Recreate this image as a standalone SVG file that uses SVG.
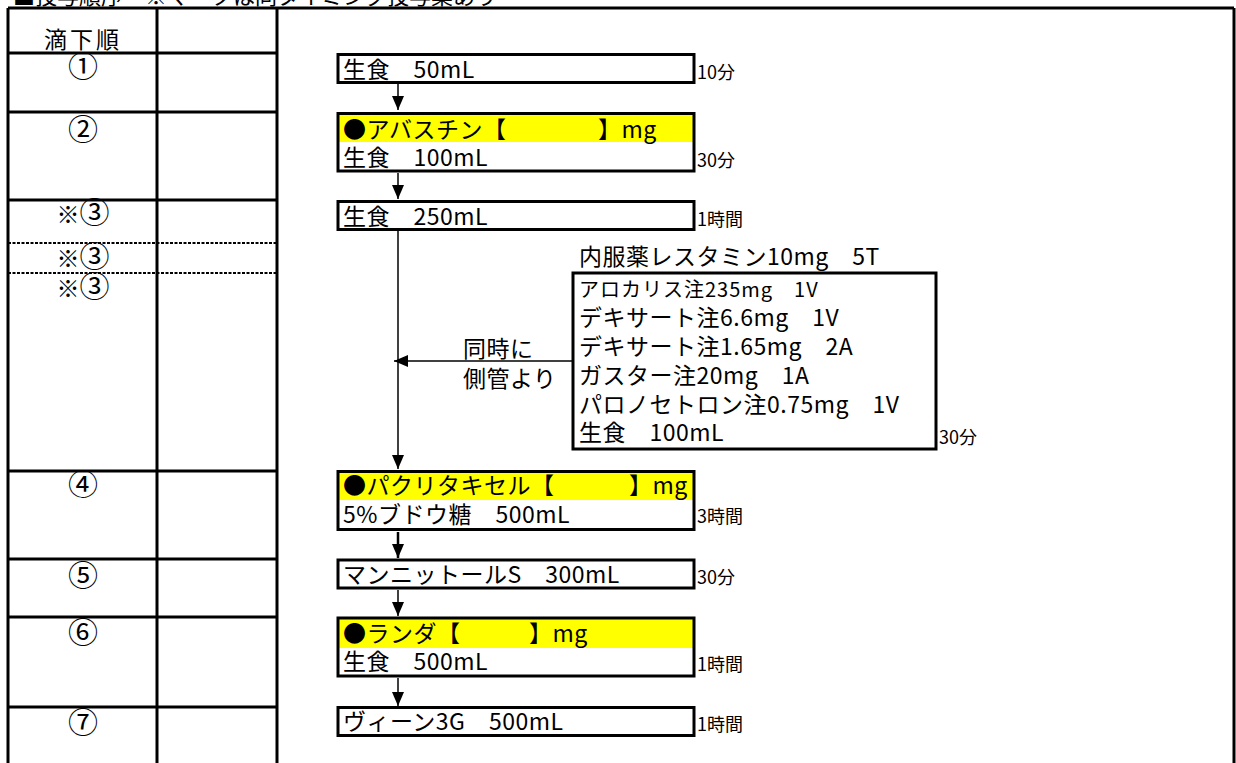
<svg xmlns="http://www.w3.org/2000/svg" width="1236" height="763" viewBox="0 0 1236 763">
<style>
text{font-family:"Noto Sans CJK JP","Noto Sans CJK SC",sans-serif;fill:#000}
.t{font-size:23px;letter-spacing:0.5px}
.s{font-size:20px;letter-spacing:1px}
.tm{font-size:18px}
.n{font-size:30px;text-anchor:middle}
.k{font-size:23px}
.grid{stroke:#000;stroke-width:3;fill:none}
.dot{stroke:#000;stroke-width:2;stroke-dasharray:3 1.5;fill:none}
.box{fill:none;stroke:#000;stroke-width:3}
.yel{fill:#FFFF00}
.ln{stroke:#000;stroke-width:1.5;fill:none}
</style>
<defs>
<marker id="ah" markerUnits="userSpaceOnUse" markerWidth="14" markerHeight="12" viewBox="0 0 14 12" refX="14" refY="6" orient="auto">
<path d="M0,0 L14,6 L0,12 Z" fill="#000"/>
</marker>
</defs>
<rect width="1236" height="763" fill="#fff"/>
<text x="13" y="4" style="font-size:22px">■投与順序　※マークは同タイミング投与薬あり</text>
<g id="table">
<path class="grid" d="M8,8 H1234 M8,8 V763 M157,8 V763 M277,8 V763 M1234,8 V763"/>
<path class="grid" d="M8,53 H277 M8,112 H277 M8,200 H277 M8,471 H277 M8,559 H277 M8,617 H277 M8,707 H277"/>
<path class="dot" d="M8,243 H277 M8,273 H277"/>
<text x="83" y="48" style="font-size:23px;letter-spacing:3px;text-anchor:middle">滴下順</text>
<text class="n" x="83" y="77">①</text>
<text class="n" x="83" y="140">②</text>
<text class="n" x="83" y="223"><tspan class="k">※</tspan>③</text>
<text class="n" x="83" y="267"><tspan class="k">※</tspan>③</text>
<text class="n" x="83" y="297"><tspan class="k">※</tspan>③</text>
<text class="n" x="83" y="495">④</text>
<text class="n" x="83" y="586">⑤</text>
<text class="n" x="83" y="643">⑥</text>
<text class="n" x="83" y="733">⑦</text>
</g>
<g id="connectors">
<path class="ln" d="M398,84 V110" marker-end="url(#ah)"/>
<path class="ln" d="M398,173 V199" marker-end="url(#ah)"/>
<path class="ln" d="M398,231 V469" marker-end="url(#ah)"/>
<path class="ln" d="M572,361 H394" marker-end="url(#ah)"/>
<path class="ln" style="stroke-width:2.5" d="M398,532 V558" marker-end="url(#ah)"/>
<path class="ln" d="M398,590 V616" marker-end="url(#ah)"/>
<path class="ln" d="M398,678 V706" marker-end="url(#ah)"/>
<text class="t" x="463" y="357">同時に</text>
<text class="t" x="463" y="387">側管より</text>
</g>
<g id="n1">
<rect class="box" x="338" y="54.5" width="356" height="28"/>
<text class="t" x="343" y="78">生食　50mL</text>
<text class="tm" x="697" y="79">10分</text>
</g>
<g id="n2">
<rect class="yel" x="338" y="113" width="356" height="29"/>
<rect class="box" x="338" y="113.5" width="356" height="57.5"/>
<text class="t" x="343" y="138">●アバスチン【<tspan x="598">】mg</tspan></text>
<text class="t" x="343" y="166">生食　100mL</text>
<text class="tm" x="697" y="167">30分</text>
</g>
<g id="n3">
<rect class="box" x="338" y="201.5" width="356" height="28"/>
<text class="t" x="343" y="225">生食　250mL</text>
<text class="tm" x="697" y="226">1時間</text>
</g>
<g id="premed">
<text class="t" x="579" y="265">内服薬レスタミン10mg　5T</text>
<rect class="box" x="573" y="273" width="363" height="176"/>
<text class="s" x="579" y="297">アロカリス注235mg　1V</text>
<text class="t" x="579" y="326">デキサート注6.6mg　1V</text>
<text class="t" x="579" y="355">デキサート注1.65mg　2A</text>
<text class="t" x="579" y="384">ガスター注20mg　1A</text>
<text class="t" x="579" y="413">パロノセトロン注0.75mg　1V</text>
<text class="t" x="579" y="441">生食　100mL</text>
<text class="tm" x="939" y="444">30分</text>
</g>
<g id="n4">
<rect class="yel" x="338" y="471" width="356" height="29"/>
<rect class="box" x="338" y="471.5" width="356" height="58"/>
<text class="t" x="343" y="494">●パクリタキセル【<tspan x="629">】mg</tspan></text>
<text class="t" x="343" y="523">5%ブドウ糖　500mL</text>
<text class="tm" x="697" y="523">3時間</text>
</g>
<g id="n5">
<rect class="box" x="338" y="560" width="356" height="28"/>
<text class="t" x="343" y="583">マンニットールS　300mL</text>
<text class="tm" x="697" y="584">30分</text>
</g>
<g id="n6">
<rect class="yel" x="338" y="618" width="356" height="30"/>
<rect class="box" x="338" y="618" width="356" height="58"/>
<text class="t" x="343" y="642">●ランダ【<tspan x="529">】mg</tspan></text>
<text class="t" x="343" y="670">生食　500mL</text>
<text class="tm" x="697" y="671">1時間</text>
</g>
<g id="n7">
<rect class="box" x="338" y="707.5" width="356" height="28"/>
<text class="t" x="343" y="730">ヴィーン3G　500mL</text>
<text class="tm" x="697" y="731">1時間</text>
</g>
</svg>
